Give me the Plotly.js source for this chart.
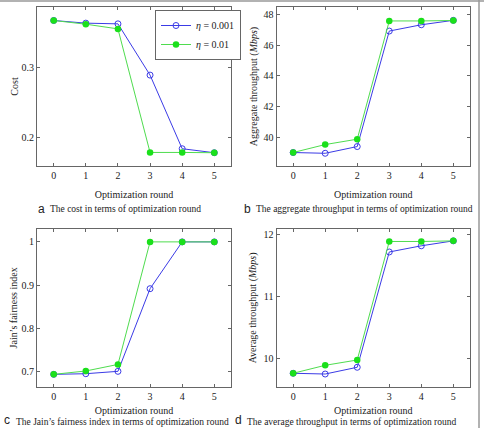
<!DOCTYPE html>
<html>
<head>
<meta charset="utf-8">
<script src="https://cdn.plot.ly/plotly-3.0.1.min.js"></script>
<style>html,body{margin:0;padding:0;background:#fff;}#chart{width:484px;height:428px;}</style>
</head>
<body>
<div id="chart"></div>
<script>
const rounds = [0, 1, 2, 3, 4, 5];
const seriesNames = ['<i>η</i> = 0.001', '<i>η</i> = 0.01'];

const costEta001 = [0.3677, 0.3639, 0.3629, 0.2896, 0.1843, 0.1786];
const costEta01  = [0.3677, 0.3624, 0.3557, 0.1790, 0.1790, 0.1786];

const aggEta001 = [39.00, 38.95, 39.39, 46.93, 47.34, 47.63];
const aggEta01  = [39.00, 39.52, 39.87, 47.59, 47.59, 47.62];

const jainEta001 = [0.693, 0.6945, 0.700, 0.8915, 1.0, 1.0];
const jainEta01  = [0.693, 0.7008, 0.716, 1.0, 1.0, 1.0];

const avgEta001 = [9.757, 9.745, 9.854, 11.72, 11.82, 11.90];
const avgEta01  = [9.757, 9.886, 9.972, 11.89, 11.89, 11.90];

const captions = [
  ['a', 'The cost in terms of optimization round'],
  ['b', 'The aggregate throughput in terms of optimization round'],
  ['c', 'The Jain\u2019s fairness index in terms of optimization round'],
  ['d', 'The average throughput in terms of optimization round']
];

const W = 484, H = 428;
const px = v => v / W;
const py = v => 1 - v / H;

const blue = '#3b3be6';
const greenLine = '#4fdc4f';
const greenMarker = '#1be01b';
const serif = 'Liberation Serif, Times New Roman, serif';

function pair(xa, ya, s1, s2, legend) {
  return [
    {x: rounds, y: s1, xaxis: xa, yaxis: ya, name: seriesNames[0], type: 'scatter', mode: 'lines+markers',
     line: {color: blue, width: 1}, marker: {symbol: 'circle-open', size: 6, color: blue, line: {width: 1, color: blue}},
     showlegend: legend},
    {x: rounds, y: s2, xaxis: xa, yaxis: ya, name: seriesNames[1], type: 'scatter', mode: 'lines+markers',
     line: {color: greenLine, width: 1}, marker: {symbol: 'circle', size: 6.5, color: greenMarker},
     showlegend: legend}
  ];
}

const data = [].concat(
  pair('x', 'y', costEta001, costEta01, true),
  pair('x2', 'y2', aggEta001, aggEta01, false),
  pair('x3', 'y3', jainEta001, jainEta01, false),
  pair('x4', 'y4', avgEta001, avgEta01, false)
);

const tickFont = {family: serif, size: 10, color: '#222'};
const titleFont = {family: serif, size: 10, color: '#222'};

function xax(domain, anchor, standoff) {
  return {domain: domain, anchor: anchor, range: [-0.52, 5.52], tickvals: rounds, ticktext: rounds.map(String),
    ticks: 'inside', ticklen: 3, tickcolor: '#666', mirror: 'allticks', showline: true, linecolor: '#666', linewidth: 1,
    showgrid: false, zeroline: false, tickfont: tickFont,
    title: {text: 'Optimization round', font: titleFont, standoff: standoff}};
}
function yax(domain, anchor, range, tickvals, ticktext, title, standoff) {
  return {domain: domain, anchor: anchor, range: range, tickvals: tickvals, ticktext: ticktext,
    ticks: 'inside', ticklen: 3, tickcolor: '#666', mirror: 'allticks', showline: true, linecolor: '#666', linewidth: 1,
    showgrid: false, zeroline: false, tickfont: tickFont,
    title: {text: title, font: titleFont, standoff: standoff}};
}

const topY = [py(166), py(7)];
const botY = [py(387.3), py(228.5)];
const leftX = [px(37), px(231)];
const rightX = [px(276.5), px(470)];

const annotations = [];
// [x, y, yanchor]
const capPos = [[37, 209, 'middle'], [243, 209, 'middle'], [3, 427.5, 'bottom'], [234, 427.5, 'bottom']];
captions.forEach((c, i) => {
  const [cx, cy, ya] = capPos[i];
  annotations.push({xref: 'paper', yref: 'paper', x: px(cx), y: py(cy), xanchor: 'left', yanchor: ya,
    text: c[0], showarrow: false, borderpad: 0, font: {family: 'Liberation Sans, Arial, sans-serif', size: 12, color: '#222'}});
  annotations.push({xref: 'paper', yref: 'paper', x: px(cx + 12), y: py(cy), xanchor: 'left', yanchor: ya,
    text: c[1], showarrow: false, borderpad: 0, font: {family: serif, size: 9.5, color: '#222'}});
});

const layout = {
  width: W, height: H,
  margin: {l: 0, r: 0, t: 0, b: 0},
  paper_bgcolor: '#fff', plot_bgcolor: '#fff',
  showlegend: true,
  legend: {x: px(155), y: py(10), xanchor: 'left', yanchor: 'top', bgcolor: '#fff', bordercolor: '#666', borderwidth: 1,
    font: {family: serif, size: 10, color: '#222'}, itemwidth: 30, tracegroupgap: 0},
  xaxis: xax(leftX, 'y', 10),
  yaxis: yax(topY, 'x', [0.1596, 0.387], [0.2, 0.3], ['0.2', '0.3'], 'Cost', 1),
  xaxis2: xax(rightX, 'y2', 10),
  yaxis2: yax(topY, 'x2', [38.12, 48.5], [40, 42, 44, 46, 48], ['40', '42', '44', '46', '48'], 'Aggregate throughput (<i>Mbps</i>)', 4),
  xaxis3: xax(leftX, 'y3', 5),
  yaxis3: yax(botY, 'x3', [0.663, 1.031], [0.7, 0.8, 0.9, 1.0], ['0.7', '0.8', '0.9', '1'], 'Jain\u2019s fairness index', 1),
  xaxis4: xax(rightX, 'y4', 5),
  yaxis4: yax(botY, 'x4', [9.53, 12.10], [10, 11, 12], ['10', '11', '12'], 'Average throughput (<i>Mbps</i>)', 4),
  annotations: annotations,
  shapes: [
    {type: 'line', xref: 'paper', yref: 'paper', x0: 0, x1: 1, y0: py(1), y1: py(1), line: {color: '#999', width: 1.5}},
    {type: 'line', xref: 'paper', yref: 'paper', x0: px(479), x1: px(479), y0: 0, y1: 1, line: {color: '#999', width: 1.5}}
  ]
};

Plotly.newPlot('chart', data, layout, {displayModeBar: false, staticPlot: true});
</script>
</body>
</html>
